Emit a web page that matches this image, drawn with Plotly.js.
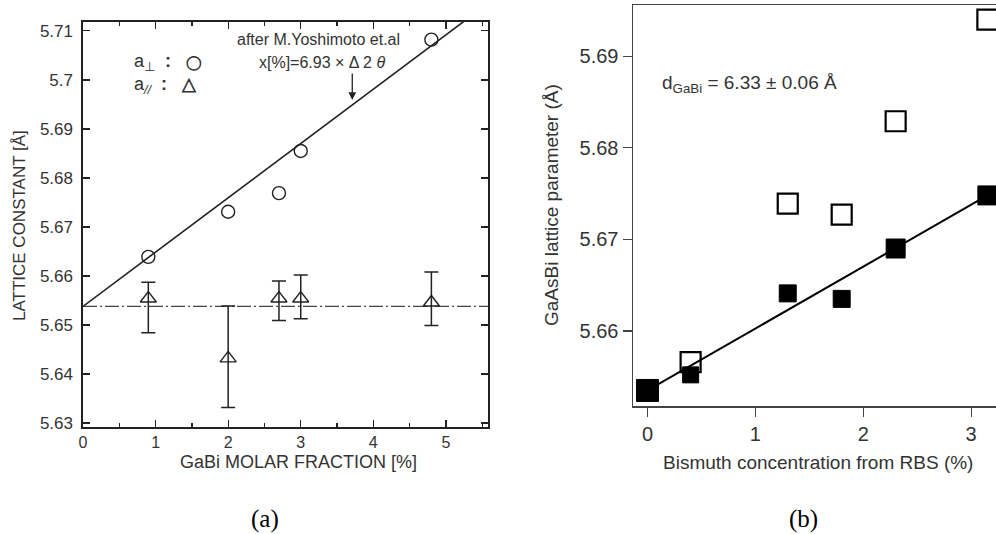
<!DOCTYPE html>
<html>
<head>
<meta charset="utf-8">
<script src="https://cdn.plot.ly/plotly-3.0.1.min.js"></script>
<style>html,body{margin:0;padding:0;background:#fff;}#chart{width:996px;height:534px;}</style>
</head>
<body>
<div id="chart"></div>
<script>
// ---- Panel (a) data ----
var aPerpX = [0.9, 2.0, 2.7, 3.0, 4.8];
var aPerpY = [5.6639, 5.6731, 5.6769, 5.6855, 5.7082];
var aParX = [0.9, 2.0, 2.7, 3.0, 4.8];
var aParY = [5.6554, 5.6432, 5.6554, 5.6554, 5.6546];
var aParUpper = [5.6587, 5.6539, 5.6590, 5.6602, 5.6608];
var aParLower = [5.6484, 5.6332, 5.6509, 5.6513, 5.6499];
var fitAX = [0, 5.3];
var fitAY = [5.6538, 5.7125];
var gaAsX = [0, 5.58];
var gaAsY = [5.6538, 5.6538];
var xTicksA = [0, 1, 2, 3, 4, 5];
var yTicksA = [5.63, 5.64, 5.65, 5.66, 5.67, 5.68, 5.69, 5.70, 5.71];

// ---- Panel (b) data ----
var xrdX = [0, 0.4, 1.3, 1.8, 2.3, 3.15];
var xrdY = [5.6535, 5.6552, 5.6641, 5.6635, 5.6690, 5.6748];
var xrdSize = [22, 16, 17, 17, 19, 19];
var openX = [0.4, 1.3, 1.8, 2.3, 3.15];
var openY = [5.6566, 5.6739, 5.6727, 5.6829, 5.6940];
var fitBX = [0, 3.15];
var fitBY = [5.6535, 5.6748];
var xTicksB = [0, 1, 2, 3];
var yTicksB = [5.66, 5.67, 5.68, 5.69];

var errPlus = aParUpper.map(function(u, i){ return u - aParY[i]; });
var errMinus = aParLower.map(function(l, i){ return aParY[i] - l; });

var ink = '#222';
var txt = '#333';

var traces = [
  {x: gaAsX, y: gaAsY, xaxis: 'x', yaxis: 'y', mode: 'lines',
   line: {color: '#444', width: 1.2, dash: '14px,3px,2px,3px'}, hoverinfo: 'skip'},
  {x: fitAX, y: fitAY, xaxis: 'x', yaxis: 'y', mode: 'lines',
   line: {color: ink, width: 1.6}, cliponaxis: true},
  {x: aPerpX, y: aPerpY, xaxis: 'x', yaxis: 'y', mode: 'markers',
   marker: {symbol: 'circle-open', size: 13, color: ink, opacity: 1, line: {width: 1.4, color: ink}}},
  {x: aParX, y: aParY, xaxis: 'x', yaxis: 'y', mode: 'markers',
   marker: {symbol: 'triangle-up-open', size: 14, color: ink, opacity: 1, line: {width: 1.4, color: ink}},
   error_y: {type: 'data', symmetric: false, array: errPlus, arrayminus: errMinus,
             color: ink, thickness: 1.5, width: 7}},
  {x: fitBX, y: fitBY, xaxis: 'x2', yaxis: 'y2', mode: 'lines',
   line: {color: '#000', width: 2}},
  {x: openX, y: openY, xaxis: 'x2', yaxis: 'y2', mode: 'markers',
   marker: {symbol: 'square-open', size: 20, color: '#000', opacity: 1, line: {width: 2.2, color: '#000'}}},
  {x: xrdX, y: xrdY, xaxis: 'x2', yaxis: 'y2', mode: 'markers',
   marker: {symbol: 'square', size: xrdSize, color: '#000', opacity: 1, line: {width: 1, color: '#000'}}}
];

function note(px, py, text, extra) {
  var a = {xref: 'paper', yref: 'paper', x: px/996, y: 1 - py/534, text: text,
           showarrow: false, xanchor: 'center', yanchor: 'middle', font: {size: 16, color: txt}};
  for (var k in extra) a[k] = extra[k];
  return a;
}

var layout = {
  width: 996, height: 534,
  margin: {l: 0, r: 0, t: 0, b: 0},
  paper_bgcolor: '#fff', plot_bgcolor: '#fff',
  showlegend: false,
  font: {family: 'Liberation Sans, Arial, sans-serif', color: txt},
  xaxis: {
    domain: [83/996, 488/996], range: [0, 5.58], anchor: 'y',
    tickvals: xTicksA, ticks: 'inside', ticklen: 7, tickwidth: 1.3, tickcolor: ink,
    minor: {dtick: 0.5, ticks: 'inside', ticklen: 4, tickwidth: 1.3, tickcolor: ink},
    showline: true, linecolor: ink, linewidth: 1.6, mirror: 'allticks', ticklabelstandoff: 0,
    showgrid: false, zeroline: false, tickfont: {size: 16, color: txt}
  },
  yaxis: {
    domain: [(534-427)/534, (534-22)/534], range: [5.6292, 5.7118], anchor: 'x',
    tickvals: yTicksA, ticktext: yTicksA.map(function(v){ return String(+v.toFixed(2)); }),
    ticks: 'inside', ticklen: 7, tickwidth: 1.3, tickcolor: ink, ticklabelstandoff: 5,
    showline: true, linecolor: ink, linewidth: 1.6, mirror: 'allticks',
    showgrid: false, zeroline: false, tickfont: {size: 17, color: txt}
  },
  xaxis2: {
    domain: [633/996, 1], range: [-0.134, 3.23], anchor: 'y2',
    tickvals: xTicksB, ticks: 'outside', ticklen: 9, tickwidth: 1.3, tickcolor: '#444',
    showline: true, linecolor: '#444', linewidth: 1.5, mirror: true,
    showgrid: false, zeroline: false, tickfont: {size: 20, color: txt}
  },
  yaxis2: {
    domain: [(534-406)/534, (534-5)/534], range: [5.6518, 5.6956], anchor: 'x2',
    tickvals: yTicksB, ticks: 'outside', ticklen: 9, tickwidth: 1.3, tickcolor: '#444',
    showline: true, linecolor: '#444', linewidth: 1.5, mirror: false,
    showgrid: false, zeroline: false, tickfont: {size: 20, color: txt}
  },
  annotations: [
    note(20, 226, 'LATTICE CONSTANT [Å]', {textangle: -90, font: {size: 17, color: txt}}),
    note(298, 462, 'GaBi MOLAR FRACTION [%]', {font: {size: 18, color: txt}}),
    note(318, 40, 'after M.Yoshimoto et.al', {font: {size: 16, color: txt}}),
    note(322, 62, 'x[%]=6.93 × Δ 2 <i>θ</i>', {font: {size: 16, color: txt}}),
    {xref: 'x', yref: 'y', x: 3.71, y: 5.6959, ax: 0, ay: -28, text: '',
     showarrow: true, arrowhead: 2, arrowsize: 1.2, arrowwidth: 1.3, arrowcolor: ink},
    note(132, 62, 'a<sub>⊥</sub>  <b>:</b>   <b><span style="font-size:14px">◯</span></b>', {xanchor: 'left', font: {size: 18, color: txt}}),
    note(132, 85, 'a<sub><i>//</i></sub>  <b>:</b>   <b>△</b>', {xanchor: 'left', font: {size: 18, color: txt}}),
    note(552, 205, 'GaAsBi lattice parameter (Å)', {textangle: -90, font: {size: 19, color: txt}}),
    note(818, 462, 'Bismuth concentration from RBS (%)', {font: {size: 19, color: txt}}),
    note(660, 84, 'd<sub>GaBi</sub> = 6.33 ± 0.06 Å', {xanchor: 'left', font: {size: 19, color: txt}}),
    note(265, 519, '(a)', {font: {family: 'Liberation Serif, Times New Roman, serif', size: 25, color: '#000'}}),
    note(803, 519, '(b)', {font: {family: 'Liberation Serif, Times New Roman, serif', size: 25, color: '#000'}})
  ]
};

Plotly.newPlot('chart', traces, layout, {displayModeBar: false, staticPlot: true});
</script>
</body>
</html>
